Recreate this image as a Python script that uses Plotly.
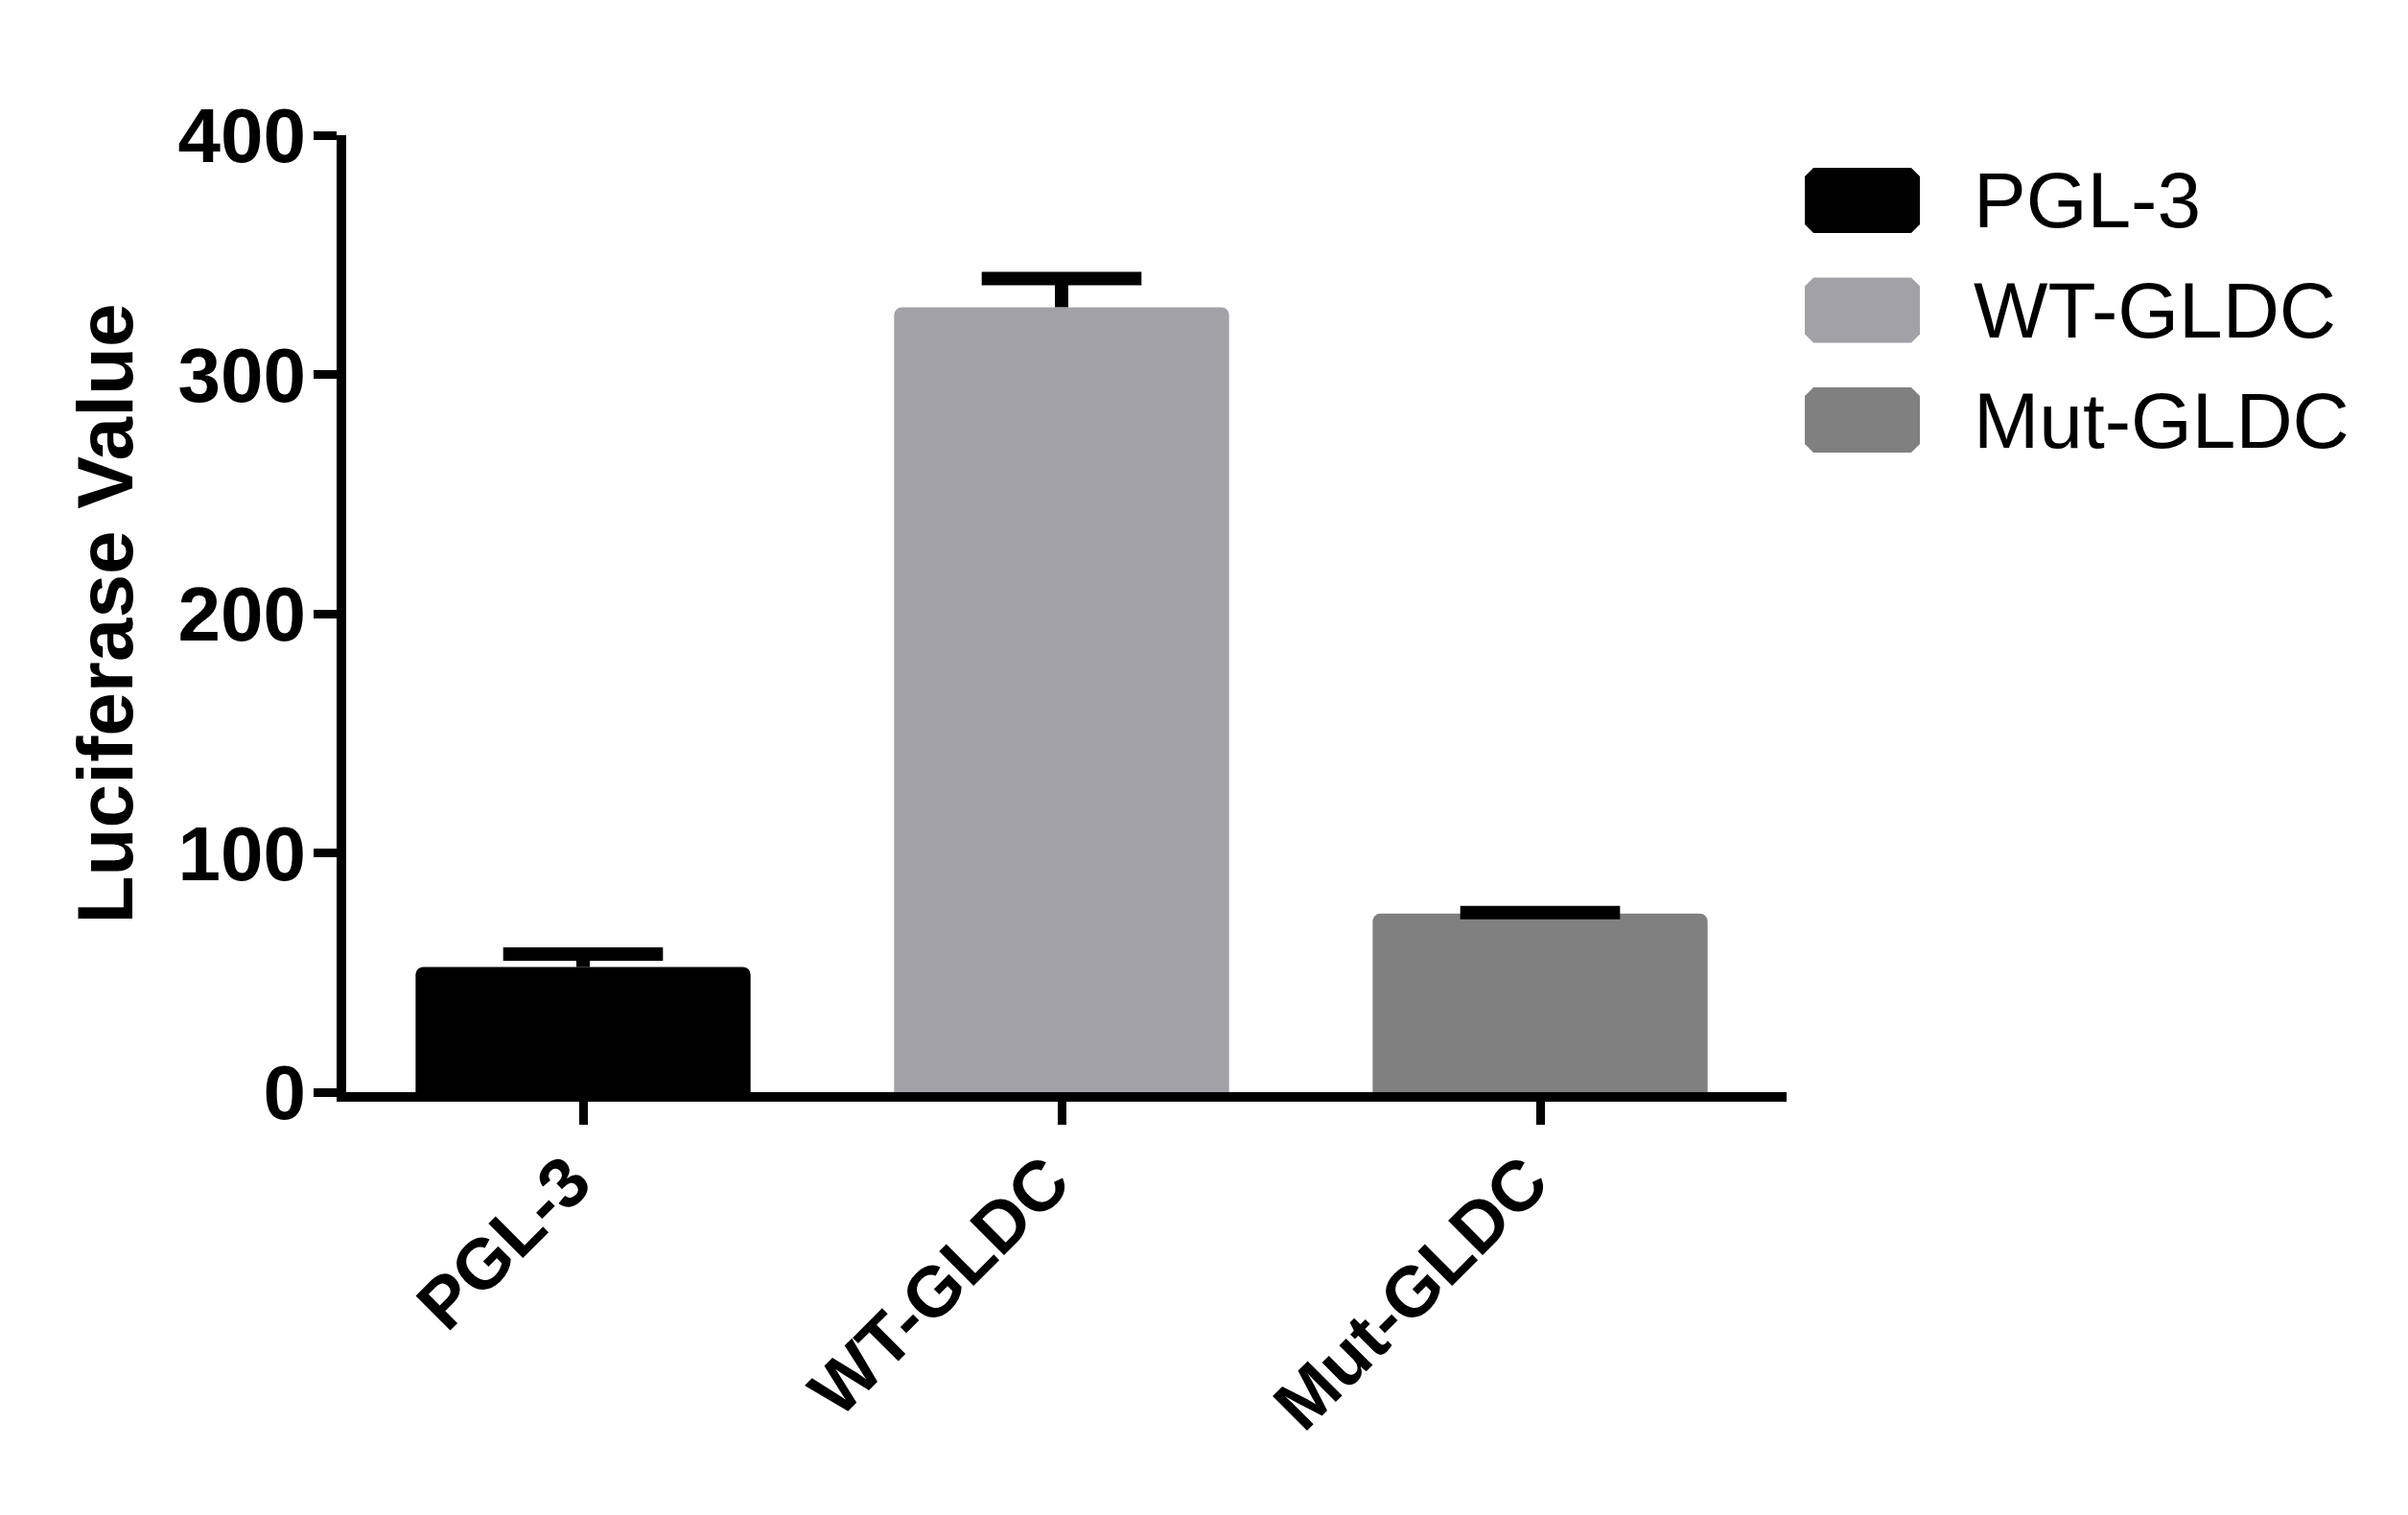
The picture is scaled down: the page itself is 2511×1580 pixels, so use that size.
import plotly.graph_objects as go

# data
groups = ["PGL-3", "WT-GLDC", "Mut-GLDC"]
means = [52.3, 328.1, 74.6]
sem = [5.4, 12.0, 0.5]
colors = ["#000000", "#A2A1A6", "#808080"]
y_ticks = [0, 100, 200, 300, 400]

W, H = 2511, 1580
L, R, T, B = 353, 656, 133, 449
pw, ph = W - L - R, H - T - B


def px_x(x):
    return (x - L) / pw


def px_y(y):
    return 1 - (y - T) / ph


fig = go.Figure()

for g, m, e, c in zip(groups, means, sem, colors):
    # bar + upper error stem (no cap here, plotly would put one at the mean too)
    fig.add_trace(go.Bar(
        x=[g], y=[m], name=g, width=0.70,
        marker=dict(color=c, line=dict(width=0), cornerradius=8),
        error_y=dict(type="data", array=[e], arrayminus=[0], symmetric=False,
                     color="black", thickness=14, width=0),
    ))

# caps on top of the error bars (line-ew is 1.4 * size long)
fig.add_trace(go.Scatter(
    x=groups, y=[m + e for m, e in zip(means, sem)], mode="markers",
    marker=dict(symbol="line-ew", size=119, line=dict(color="black", width=14)),
    hoverinfo="skip", showlegend=False,
))

# legend drawn by hand so the swatches can be big like the original
shapes = []
annotations = []
for i, (g, c) in enumerate(zip(groups, colors)):
    cy = 201 + i * 114.5
    x0, x1, y0, y1, k = 1874, 1994, cy - 34, cy + 34, 9
    pts = [(x0 + k, y0), (x1 - k, y0), (x1, y0 + k), (x1, y1 - k),
           (x1 - k, y1), (x0 + k, y1), (x0, y1 - k), (x0, y0 + k)]
    path = "M" + " L".join(f"{px_x(a):.5f},{px_y(b):.5f}" for a, b in pts) + " Z"
    shapes.append(dict(type="path", xref="paper", yref="paper", path=path,
                       fillcolor=c, line=dict(width=0)))
    annotations.append(dict(x=px_x(2048), y=px_y(cy), xref="paper", yref="paper",
                            text=g, showarrow=False, xanchor="left", yanchor="middle",
                            font=dict(family="Liberation Sans, Arial", size=82, color="black")))

x_font = dict(family="Liberation Sans, Arial", size=74, color="black", weight="bold")
y_font = dict(family="Liberation Sans, Arial", size=80, color="black", weight="bold")

fig.update_layout(
    width=W, height=H,
    margin=dict(l=L, r=R, t=T, b=B, pad=0),
    paper_bgcolor="white", plot_bgcolor="white",
    barmode="overlay", showlegend=False,
    shapes=shapes, annotations=annotations,
    xaxis=dict(range=[-0.495, 2.515], showline=True, linewidth=10, linecolor="black",
               ticks="outside", ticklen=24, tickwidth=9, tickcolor="black",
               tickangle=-45, tickfont=x_font, ticklabelshift=-14,
               ticklabelstandoff=-14, showgrid=False, zeroline=False),
    yaxis=dict(range=[0, 400], tickvals=y_ticks, showline=True, linewidth=10,
               linecolor="black", ticks="outside", ticklen=24, tickwidth=9,
               tickcolor="black", tickfont=y_font, ticklabelstandoff=-8,
               showgrid=False, zeroline=False,
               title=dict(text="Luciferase Value", standoff=24,
                          font=dict(family="Liberation Sans, Arial", size=82,
                                    color="black", weight="bold"))),
)

fig.write_html("out.html")
